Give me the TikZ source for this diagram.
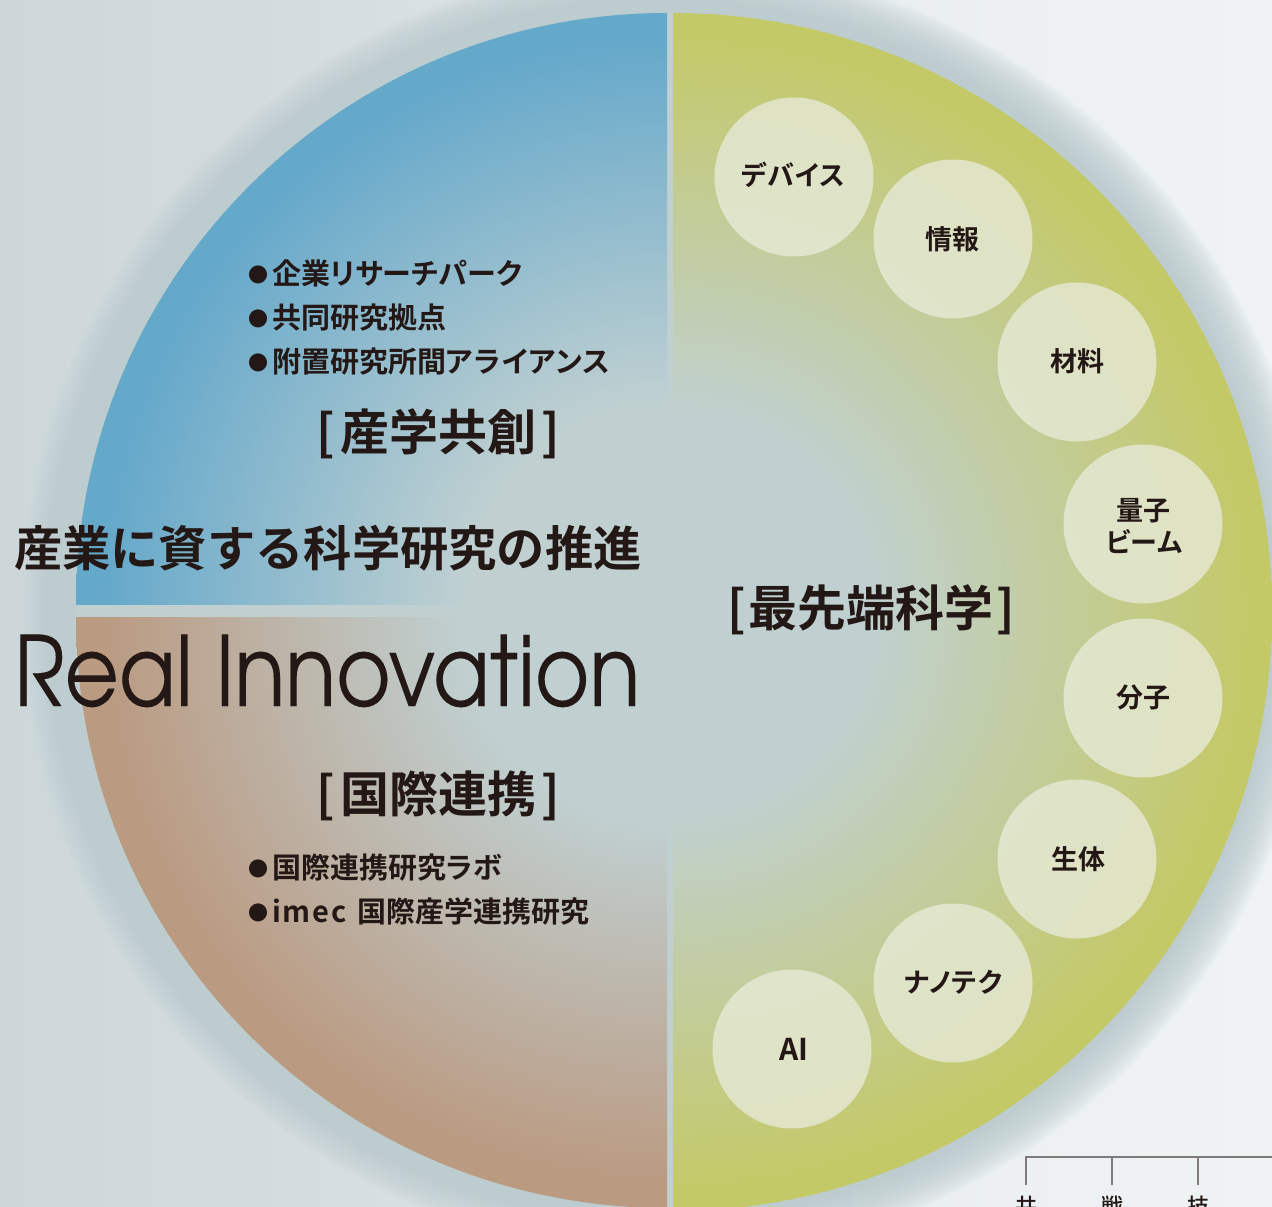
\documentclass[tikz,border=0pt]{standalone}
\usepackage{fontspec}
\setmainfont{Noto Sans CJK JP Medium}
\newfontfamily\jpbold{Noto Sans CJK JP Bold}
\newfontfamily\latinf[FakeStretch=0.86,FakeBold=0.08]{TeX Gyre Adventor}
\definecolor{ink}{HTML}{231815}
\definecolor{discbase}{HTML}{C0D0D1}
\definecolor{blueedge}{HTML}{64A8CA}
\definecolor{oliveedge}{HTML}{C4C968}
\definecolor{brownedge}{HTML}{BA9A81}
\definecolor{halo}{HTML}{BCCCCF}
\definecolor{smallcirc}{HTML}{E7EAD7}
\definecolor{rulegrey}{HTML}{7F7B7B}
\definecolor{bga}{HTML}{CDD7DA}
\definecolor{bgb}{HTML}{D4DCDF}
\definecolor{bgc}{HTML}{E2E8EA}
\definecolor{bgd}{HTML}{ECF0F2}
\definecolor{bge}{HTML}{EFF3F4}
\pgfdeclareradialshading{blueR}{\pgfpoint{0bp}{0bp}}{color(0bp)=(discbase); color(8.5bp)=(discbase); color(24bp)=(blueedge); color(50bp)=(blueedge)}
\pgfdeclareradialshading{oliveR}{\pgfpoint{0bp}{0bp}}{color(0bp)=(discbase); color(8bp)=(discbase); color(24bp)=(oliveedge); color(50bp)=(oliveedge)}
\pgfdeclareradialshading{brownR}{\pgfpoint{0bp}{0bp}}{color(0bp)=(discbase); color(8.5bp)=(discbase); color(24bp)=(brownedge); color(50bp)=(brownedge)}
\pgfdeclarehorizontalshading{bgH}{100bp}{color(0bp)=(bga); color(25bp)=(bga); color(36.8bp)=(bgb); color(51.3bp)=(bgc); color(64.3bp)=(bgd); color(75bp)=(bge); color(100bp)=(bge)}
\tikzset{
  txt/.style={inner sep=0pt,outer sep=0pt,anchor=base west,text=ink},
  ctxt/.style={inner sep=0pt,outer sep=0pt,anchor=base,text=ink},
  topic/.style={circle,fill=smallcirc,fill opacity=0.8,minimum size=159pt,inner sep=0pt},
  rulel/.style={draw=rulegrey,line width=1.4pt},
  glow/.style={fill=white,opacity=0.017},
  haloring/.style={fill=halo,opacity=0.08},
  cross/.style={fill=discbase},
}
\newcommand{\jsize}[1]{\fontsize{#1}{#1}\selectfont}
\newcommand{\kana}[1]{{\addfontfeature{RawFeature=+palt,LetterSpace=4}#1}}
\newcommand{\kanat}[1]{{\addfontfeature{RawFeature=+palt,LetterSpace=1}#1}}
\newcommand{\listitem}[1]{\jpbold\makebox[24pt][l]{\raisebox{1.5pt}{\fontsize{20}{20}\selectfont ●}}{\jsize{29}#1}}
\newcommand{\lab}[1]{\jpbold\jsize{27}#1}
\begin{document}
\begin{tikzpicture}[x=1pt,y=-1pt]
\useasboundingbox (0,0) rectangle (1272,1207);
\clip (0,0) rectangle (1272,1207);
\shade[shading=bgH] (0,0) rectangle (1272,1207);
\foreach \r in {650,655,...,745}{\fill[glow] (670,610) circle (\r pt);}
\foreach \r in {596,598,...,648}{\fill[haloring] (670,610) circle (\r pt);}
\fill[cross] (76,604) rectangle (673,617);
\fill[cross] (667,13) rectangle (673,1207);
\begin{scope}
  \clip (76,13) rectangle (667,604);
  \shade[shading=blueR] (667,604) circle (591pt);
\end{scope}
\begin{scope}
  \clip (76,617) rectangle (667,1208);
  \shade[shading=brownR] (667,617) circle (591pt);
\end{scope}
\begin{scope}
  \clip (673,13) rectangle (1272,1211);
  \shade[shading=oliveR] (673,612) circle (599pt);
\end{scope}

\node[topic] (c1) at (794,177) {};
\node[topic] (c2) at (953,239) {};
\node[topic] (c3) at (1077,362) {};
\node[topic] (c4) at (1143,524) {};
\node[topic] (c5) at (1143,698) {};
\node[topic] (c6) at (1077,859) {};
\node[topic] (c7) at (953,983) {};
\node[topic] (c8) at (792,1049) {};

\node[ctxt] (l1) at (793,185) {\lab{\kana{デバイス}}};
\node[ctxt] (l2) at (952,249) {\lab{情報}};
\node[ctxt] (l3) at (1077,371) {\lab{材料}};
\node[ctxt] (l4a) at (1143,520) {\lab{量子}};
\node[ctxt] (l4b) at (1144,552) {\lab{\kana{ビーム}}};
\node[ctxt] (l5) at (1143,707) {\lab{分子}};
\node[ctxt] (l6) at (1078,869) {\lab{生体}};
\node[ctxt] (l7) at (953,992) {\lab{\kana{ナノテク}}};
\node[ctxt] (l8) at (794,1060) {\jpbold\jsize{30}AI};

\node[txt] (i1) at (248,284) {\listitem{企業\kanat{リサーチパーク}}};
\node[txt] (i2) at (248,328) {\listitem{共同研究拠点}};
\node[txt] (i3) at (248,372) {\listitem{附置研究所間\kana{アライアンス}}};
\node[txt] (i4) at (248,878) {\listitem{国際連携研究\kana{ラボ}}};
\node[txt] (i5) at (248,922) {\listitem{\makebox[86pt][l]{\addfontfeature{LetterSpace=7}imec}国際産学連携研究}};

\node[ctxt] (h1) at (438.5,450) {\jpbold\jsize{49}[\hspace{5pt}産学共創\hspace{5pt}]};
\node[ctxt] (h2) at (438.5,812) {\jpbold\jsize{49}[\hspace{5pt}国際連携\hspace{5pt}]};
\node[ctxt] (h3) at (871.5,626) {\jpbold\jsize{49}[\hspace{3pt}最先端科学\hspace{3pt}]};

\node[txt] (t1) at (14,566) {\jpbold\jsize{48.3}産業に資する科学研究の推進};
\node[txt] (t2) at (14,706) {\latinf\fontsize{97}{97}\selectfont Real Innovation};

\coordinate (a0) at (1026,1157);
\coordinate (a1) at (1112,1157);
\coordinate (a2) at (1198,1157);
\coordinate (a3) at (1272,1157);
\coordinate (b0) at (1026,1185);
\coordinate (b1) at (1112,1185);
\coordinate (b2) at (1198,1185);
\draw[rulel] (b0) -- (a0) -- (a3);
\draw[rulel] (a1) -- (b1);
\draw[rulel] (a2) -- (b2);
\node[ctxt] (k1) at (1026,1214) {\fontsize{22}{22}\selectfont 共};
\node[ctxt] (k2) at (1112,1214) {\fontsize{22}{22}\selectfont 戦};
\node[ctxt] (k3) at (1198,1214) {\fontsize{22}{22}\selectfont 技};
\end{tikzpicture}
\end{document}
